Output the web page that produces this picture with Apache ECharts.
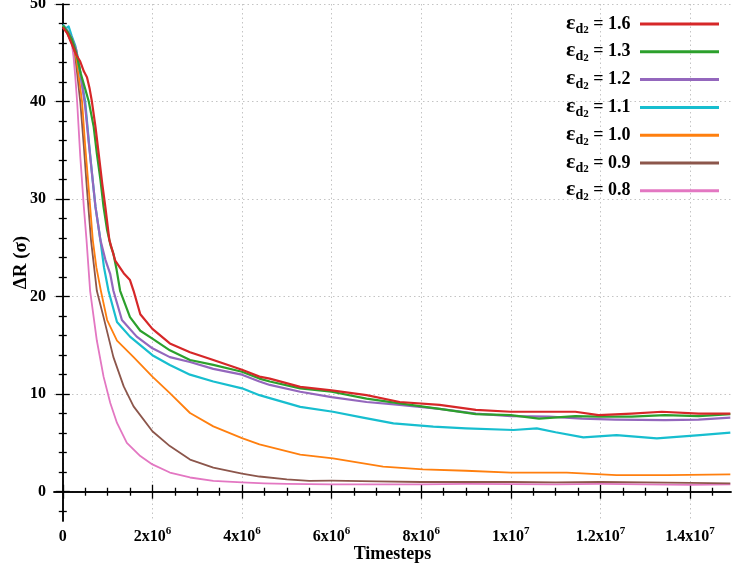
<!DOCTYPE html>
<html>
<head>
<meta charset="utf-8">
<script src="https://cdn.jsdelivr.net/npm/echarts@6/dist/echarts.min.js"></script>
<style>
html,body{margin:0;padding:0;background:#fff;}
#chart{width:732px;height:567px;}
</style>
</head>
<body>
<div id="chart"></div>
<script>
// Timesteps in units of 1e6, values ΔR in σ
const eps16 = [[0,47.6],[0.1,47],[0.2,45.9],[0.3,44.8],[0.39,44.1],[0.47,43.1],[0.54,42.5],[0.6,41.3],[0.65,40],[0.73,37.4],[0.8,34.7],[0.88,31.6],[0.95,29.2],[1.04,25.8],[1.17,23.7],[1.36,22.4],[1.5,21.7],[1.58,20.6],[1.73,18.2],[2,16.7],[2.39,15.2],[2.84,14.3],[3.36,13.5],[4,12.5],[4.39,11.8],[4.62,11.6],[5.3,10.75],[6,10.4],[6.78,9.9],[7.52,9.2],[8.41,8.9],[9.22,8.4],[10,8.2],[10.85,8.2],[11.44,8.2],[11.96,7.85],[12.7,8.0],[13.37,8.2],[14.19,8.0],[14.9,8.0]];
const eps13 = [[0,47.8],[0.1,47.2],[0.2,46.4],[0.3,45],[0.4,42.9],[0.5,41.3],[0.58,40],[0.69,37.4],[0.76,34.7],[0.84,32],[0.91,29.2],[0.99,26.8],[1.07,25.2],[1.13,24.4],[1.2,22.8],[1.28,20.6],[1.5,17.9],[1.73,16.5],[2,15.7],[2.39,14.5],[2.84,13.5],[3.36,13.0],[4,12.3],[4.39,11.6],[4.62,11.3],[5.3,10.6],[6,10.25],[6.78,9.55],[7.52,9.05],[8.41,8.5],[9.22,7.95],[10,7.85],[10.63,7.5],[11.44,7.75],[11.96,7.7],[12.7,7.7],[13.44,7.85],[14.19,7.75],[14.9,7.95]];
const eps12 = [[0,47.8],[0.1,47.3],[0.2,46.5],[0.3,45.3],[0.39,43],[0.5,39.5],[0.58,35.8],[0.65,32.7],[0.73,29.2],[0.84,25.8],[0.95,23.8],[1.06,22.3],[1.13,20.6],[1.32,17.6],[1.65,15.9],[2,14.7],[2.39,13.8],[2.84,13.3],[3.36,12.6],[4,12.0],[4.39,11.3],[4.62,10.95],[5.3,10.25],[6,9.7],[6.78,9.2],[7.52,8.9],[8.41,8.5],[9.22,8.0],[10,7.75],[10.85,7.7],[11.59,7.5],[12.33,7.4],[13.44,7.35],[14.19,7.4],[14.9,7.6]];
const eps11 = [[0,47.9],[0.07,47.5],[0.13,47.7],[0.2,46.7],[0.28,45.7],[0.33,44.6],[0.39,42.9],[0.5,40],[0.58,36],[0.65,32.7],[0.73,29.2],[0.84,25.8],[0.92,23],[1.02,20.6],[1.21,17.4],[1.5,15.9],[2,14.0],[2.39,13.0],[2.84,12.0],[3.36,11.3],[4,10.6],[4.39,9.9],[4.62,9.6],[5.3,8.7],[6.03,8.2],[6.7,7.6],[7.38,7.0],[8.27,6.67],[9,6.5],[10.06,6.33],[10.58,6.5],[11.0,6.1],[11.62,5.58],[12.36,5.8],[13.26,5.47],[14.22,5.8],[14.9,6.05]];
const eps10 = [[0,47.8],[0.1,47.1],[0.2,46.3],[0.3,44.5],[0.36,42.5],[0.43,40],[0.5,35.5],[0.58,31],[0.67,25.8],[0.75,23],[0.85,20.6],[0.99,17.6],[1.21,15.5],[1.58,13.8],[2,11.8],[2.39,10.1],[2.84,8.07],[3.36,6.7],[4,5.5],[4.39,4.85],[5.3,3.8],[6.03,3.42],[7.15,2.57],[8.04,2.3],[9,2.15],[10,1.95],[11.25,1.95],[12.36,1.71],[13.5,1.71],[14.9,1.78]];
const eps09 = [[0,47.8],[0.1,47],[0.2,46],[0.27,45],[0.32,42.9],[0.39,40],[0.47,35.4],[0.54,31],[0.63,25.8],[0.7,23],[0.76,20.6],[0.91,17.9],[1.13,13.8],[1.36,10.8],[1.58,8.75],[2,6.2],[2.39,4.68],[2.84,3.3],[3.36,2.47],[4,1.85],[4.39,1.56],[5,1.27],[5.5,1.12],[6,1.13],[7,1.06],[8,1.0],[9,1.0],[10,1.0],[11,0.95],[12,1.0],[13,0.95],[14,0.9],[14.9,0.86]];
const eps08 = [[0,47.8],[0.1,47.1],[0.2,46],[0.24,44.6],[0.28,42.5],[0.32,40],[0.39,34.4],[0.47,29.2],[0.53,25.8],[0.61,20.6],[0.76,15.5],[0.91,11.8],[1.06,9.1],[1.21,7.05],[1.43,5.0],[1.73,3.66],[2,2.8],[2.39,1.97],[2.84,1.46],[3.36,1.12],[4,0.95],[4.5,0.85],[5,0.8],[6,0.76],[7,0.75],[8,0.75],[9,0.8],[10,0.78],[11,0.75],[12,0.8],[13,0.75],[14,0.7],[14.9,0.75]];

const seriesNames = ['1.6','1.3','1.2','1.1','1.0','0.9','0.8'];
const seriesData = [eps16, eps13, eps12, eps11, eps10, eps09, eps08];
const seriesColors = ['#d62728','#2ca02c','#9467bd','#17becf','#ff7f0e','#8c564b','#e377c2'];

const xMajor = [0,2e6,4e6,6e6,8e6,1e7,1.2e7,1.4e7];
const xMinor = [0.5e6,1e6,1.5e6,2.5e6,3e6,3.5e6,4.5e6,5e6,5.5e6,6.5e6,7e6,7.5e6,8.5e6,9e6,9.5e6,10.5e6,11e6,11.5e6,12.5e6,13e6,13.5e6,14.5e6];
const yMajor = [0,10,20,30,40,50];
const yMinor = [-2,2,4,6,8,12,14,16,18,22,24,26,28,32,34,36,38,42,44,46,48];

const X_MIN = -0.196e6, X_MAX = 14.915e6, Y_MIN = -3, Y_MAX = 50;
const FONT = '"Liberation Serif", "DejaVu Serif", serif';

function xLabel(v){
  if (v === 0) return '0';
  const e = Math.floor(Math.log10(v) + 1e-9);
  const m = Math.round(v / Math.pow(10, e) * 10) / 10;
  return m + 'x10{sup|' + e + '}';
}

const axisLineStyle = {color:'#000', width:1.5};

function makeX(pos, ticks, len, withLabel, withLine, withSplit){
  return {
    type:'value', position:pos, min:X_MIN, max:X_MAX,
    axisLine:{show:withLine, lineStyle:axisLineStyle},
    axisTick:{show:true, inside:true, length:len, customValues:ticks, lineStyle:{color:'#000', width:1.3}},
    axisLabel: withLabel ? {
      show:true, customValues:ticks, margin:5, formatter:xLabel,
      color:'#000', fontFamily:FONT, fontWeight:'bold', fontSize:16, lineHeight:22,
      rich:{sup:{fontFamily:FONT, fontWeight:'bold', fontSize:11, lineHeight:11, verticalAlign:'top', color:'#000'}}
    } : {show:false},
    splitLine:{show:withSplit, lineStyle:{color:'#c4c4c4', type:[1.5,3], width:1}},
    minorTick:{show:false}, minorSplitLine:{show:false}
  };
}
function makeY(pos, ticks, len, withLabel, withLine, withSplit){
  return {
    type:'value', position:pos, min:Y_MIN, max:Y_MAX,
    axisLine:{show:withLine, lineStyle:axisLineStyle},
    axisTick:{show:true, inside:true, length:len, customValues:ticks, lineStyle:{color:'#000', width:1.3}},
    axisLabel: withLabel ? {
      show:true, customValues:ticks, margin:8,
      color:'#000', fontFamily:FONT, fontWeight:'bold', fontSize:16
    } : {show:false},
    splitLine:{show:withSplit, lineStyle:{color:'#c4c4c4', type:[1.5,3], width:1}},
    minorTick:{show:false}, minorSplitLine:{show:false}
  };
}

const xAxes = [
  makeX('bottom', xMajor, 7, true, true, true),
  makeX('bottom', xMinor, 4, false, false, false),
  makeX('top', xMajor, 7, false, true, false),
  makeX('top', xMinor, 4, false, false, false)
];
xAxes[0].name = 'Timesteps';
xAxes[0].nameLocation = 'middle';
xAxes[0].nameGap = 24;
xAxes[0].nameMoveOverlap = false;
xAxes[0].nameTextStyle = {fontFamily:FONT, fontWeight:'bold', fontSize:18, color:'#000'};

const yAxes = [
  makeY('left', yMajor, 7, true, true, true),
  makeY('left', yMinor, 4, false, false, false),
  makeY('right', yMajor, 7, false, true, false),
  makeY('right', yMinor, 4, false, false, false)
];
yAxes[0].name = 'ΔR (σ)';
yAxes[0].nameLocation = 'middle';
yAxes[0].nameGap = 23;
yAxes[0].nameMoveOverlap = false;
yAxes[0].nameTextStyle = {fontFamily:FONT, fontWeight:'bold', fontSize:19, color:'#000'};

const series = seriesData.map((d, i) => ({
  name: seriesNames[i],
  type: 'line',
  xAxisIndex: 0, yAxisIndex: 0,
  data: d.map(p => [p[0] * 1e6, p[1]]),
  showSymbol: false,
  smooth: false,
  lineStyle: {color: seriesColors[i], width: i < 4 ? 2.2 : 1.8, join:'round'},
  itemStyle: {color: seriesColors[i]},
  z: 10 - i,
  animation: false
}));

const chart = echarts.init(document.getElementById('chart'), null, {renderer:'canvas'});
chart.setOption({
  backgroundColor:'#fff',
  animation:false,
  grid:{left:54, top:4, width:677, height:517, containLabel:false, outerBoundsMode:'none'},
  xAxis: xAxes,
  yAxis: yAxes,
  legend:{
    orient:'vertical', right:13, top:12, padding:0,
    align:'right', icon:'rect', itemWidth:79, itemHeight:3, itemGap:3.8,
    data: seriesNames,
    formatter: n => '{e|ε}{d|d}{dd|2}{t| = ' + n + ' }',
    textStyle:{
      color:'#000', fontFamily:FONT, fontWeight:'bold', fontSize:17, lineHeight:24,
      rich:{
        e:{fontFamily:FONT, fontWeight:'bold', fontSize:22, lineHeight:21, verticalAlign:'top', color:'#000'},
        d:{fontFamily:FONT, fontWeight:'bold', fontSize:14, lineHeight:13, verticalAlign:'bottom', color:'#000'},
        dd:{fontFamily:FONT, fontWeight:'bold', fontSize:11, lineHeight:6, verticalAlign:'bottom', color:'#000'},
        t:{fontFamily:FONT, fontWeight:'bold', fontSize:18, lineHeight:24, color:'#000'}
      }
    }
  },
  series: series
});
</script>
</body>
</html>
